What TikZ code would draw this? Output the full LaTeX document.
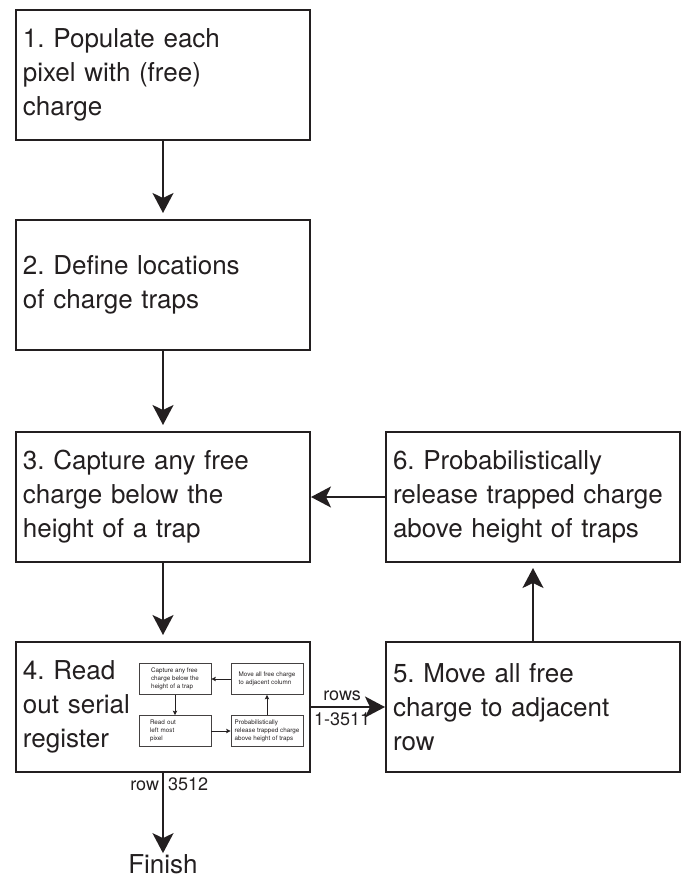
\documentclass[tikz,border=0pt]{standalone}
\usepackage{fontspec}
\setmainfont{TeX Gyre Heros}
\usetikzlibrary{arrows.meta}
\definecolor{ink}{RGB}{35,31,32}
\frenchspacing
\begin{document}
\begin{tikzpicture}[x=1pt,y=-1pt,
  mainbox/.style={draw=ink, line width=2pt, text=ink, minimum width=294pt, minimum height=130pt,
    text width=280pt, inner xsep=7pt, align=left, font=\fontsize{26}{34}\selectfont},
  innerbox/.style={draw=ink!85, line width=0.8pt, text=ink, minimum width=72pt, minimum height=31pt,
    inner sep=2pt, align=left, font=\fontsize{6.3}{8.2}\selectfont},
  arr/.style={draw=ink, line width=2pt, -{Stealth[length=20pt,width=21pt,inset=5pt]}},
  innerarr/.style={draw=ink, line width=0.8pt, -{Stealth[length=4.5pt,width=4.5pt,inset=1pt]}},
  lab/.style={text=ink, font=\fontsize{18}{20}\selectfont},
  bigtext/.style={text=ink, inner sep=0pt, font=\fontsize{26}{34}\selectfont}]
\useasboundingbox (0,0) rectangle (686,878);

\node[mainbox] (b1) at (163,74.5) {1. Populate each\\pixel with (free)\\charge};
\node[mainbox] (b2) at (163,285) {2. Define locations\\of charge traps};
\node[mainbox] (b3) at (163,497) {3. Capture any free\\charge below the\\height of a trap};
\node[mainbox] (b4) at (163,707) {4. Read\\out serial\\register};
\node[mainbox] (b5) at (533,707) {5. Move all free\\charge to adjacent\\row};
\node[mainbox] (b6) at (533,497) {6. Probabilistically\\release trapped charge\\above height of traps};

\node[innerbox] (ia) at (175,679) {Capture any free\\charge below the\\height of a trap};
\node[innerbox] (ib) at (267,679) {Move all free charge\\to adjacent column};
\node[innerbox, text width=50pt] (ic) at (175,731) {Read out\\left most\\pixel};
\node[innerbox] (id) at (267,731) {Probabilistically\\release trapped charge\\above height of traps};

\node[bigtext] (fin) at (163,864) {Finish};

\draw[arr, shorten >=6pt] (b1) -- (b2);
\draw[arr, shorten >=6pt] (b2) -- (b3);
\draw[arr, shorten >=6pt] (b3) -- (b4);
\draw[arr, shorten >=5pt] (b5) -- (b6);
\draw[arr] (b6) -- (b3);
\draw[arr] (b4) -- (b5)
  node[lab, pos=0.42, anchor=south, inner sep=5pt] (lrows) {rows}
  node[lab, pos=0.42, anchor=north, inner sep=5pt] (lrange) {1-3511};
\draw[arr, shorten >=1pt] (b4) -- (fin)
  node[lab, pos=0.22, anchor=base east, inner xsep=3pt] (lrow) {row}
  node[lab, pos=0.22, anchor=base west, inner xsep=4pt] (lnum) {3512};

\draw[innerarr] (ib) -- (ia);
\draw[innerarr] (ia) -- (ic);
\draw[innerarr] (ic) -- (id);
\draw[innerarr] (id) -- (ib);
\end{tikzpicture}
\end{document}
